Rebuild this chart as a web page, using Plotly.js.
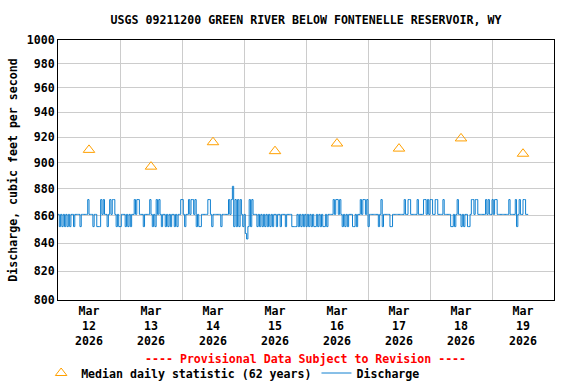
<!DOCTYPE html>
<html>
<head>
<meta charset="utf-8">
<script src="https://cdn.plot.ly/plotly-3.0.1.min.js"></script>
<style>html,body{margin:0;padding:0;background:#fff}#chart{width:576px;height:384px}</style>
</head>
<body>
<div id="chart"></div>
<script>
// Median daily statistic (62 years), plotted at noon of each day
const medianDays = ['2026-03-12 12:00','2026-03-13 12:00','2026-03-14 12:00','2026-03-15 12:00','2026-03-16 12:00','2026-03-17 12:00','2026-03-18 12:00','2026-03-19 12:00'];
const medianValues = [910, 897, 916, 909, 915, 911, 919, 907];

// Discharge, cfs, read at 30-minute steps for each day (starting at 00:00)
const qMar12 = [861,852,861,852,861,852,861,852,861,852,861,861,852,861,861,861,861,852,861,861,861,861,861,872,861,861,861,852,861,861,852,852,852,872,861,872,861,861,852,861,872,861,872,872,861,852,861,852];
const qMar13 = [852,861,861,861,852,861,852,861,852,861,861,872,861,872,872,861,861,861,852,861,861,861,861,872,861,852,861,852,872,861,872,861,852,861,861,852,861,852,861,852,861,861,852,861,852,861,861,872];
const qMar14 = [872,861,852,861,861,872,861,872,872,861,872,852,861,852,852,861,861,861,861,861,872,872,861,852,861,861,861,861,861,861,852,861,861,861,861,861,872,861,872,882,852,872,852,872,852,872,861,852];
const qMar15 = [861,847,843,852,872,852,872,861,861,861,852,861,852,861,852,861,852,861,852,861,852,861,852,861,861,852,861,861,852,861,861,861,852,861,861,861,861,852,852,852,852,861,852,861,852,861,852,861];
const qMar16 = [852,861,852,861,852,861,852,852,861,852,861,852,861,852,852,861,852,861,861,861,861,872,861,872,872,861,872,861,852,861,852,861,852,861,861,861,852,852,861,852,861,861,872,861,872,872,861,872];
const qMar17 = [852,861,861,861,861,861,861,861,852,861,872,852,861,861,861,861,861,852,852,861,861,861,861,861,861,861,861,861,872,861,861,872,872,861,861,861,861,861,872,861,861,861,861,872,872,861,872,861];
const qMar18 = [872,872,861,861,872,872,861,861,861,861,872,861,861,861,861,861,852,852,861,852,861,872,861,861,852,861,852,861,861,852,852,861,872,872,861,872,872,861,861,861,861,861,861,872,861,872,861,861];
const qMar19 = [872,861,872,872,861,861,861,861,861,861,861,861,861,872,861,861,861,861,872,852,861,872,861,861,872,872,861,861,861];

const dayStarts = ['2026-03-12','2026-03-13','2026-03-14','2026-03-15','2026-03-16','2026-03-17','2026-03-18','2026-03-19'];
const dayValues = [qMar12,qMar13,qMar14,qMar15,qMar16,qMar17,qMar18,qMar19];

const yTicks = [800,820,840,860,880,900,920,940,960,980,1000];
const xLabelDays = medianDays;
const xLabelText = ['Mar<br>12<br>2026','Mar<br>13<br>2026','Mar<br>14<br>2026','Mar<br>15<br>2026','Mar<br>16<br>2026','Mar<br>17<br>2026','Mar<br>18<br>2026','Mar<br>19<br>2026'];

function pad(n){return (n<10?'0':'')+n;}
const qx = [], qy = [];
dayStarts.forEach((d, di) => {
  const p = d.split('-').map(Number);
  dayValues[di].forEach((v, i) => {
    const t = new Date(Date.UTC(p[0], p[1]-1, p[2]) + i*30*60000);
    qx.push(t.getUTCFullYear()+'-'+pad(t.getUTCMonth()+1)+'-'+pad(t.getUTCDate())+' '+pad(t.getUTCHours())+':'+pad(t.getUTCMinutes()));
    qy.push(v);
  });
});

const FONT = 'DejaVu Sans Mono';
const f = {family: FONT, size: 11.6, color: '#000', weight: 'bold'};

const traces = [
  {x: medianDays, y: medianValues, type: 'scatter', mode: 'markers', name: 'Median daily statistic (62 years)',
   marker: {symbol: 'triangle-up-open', size: 10, color: '#FFA000', line: {width: 1, color: '#FFA000'}}},
  {x: qx, y: qy, type: 'scatter', mode: 'lines', name: 'Discharge',
   line: {shape: 'hv', width: 1, color: 'rgb(16,128,208)'}}
];

const layout = {
  width: 576, height: 384,
  margin: {l: 58, r: 22, t: 40, b: 84, autoexpand: false},
  paper_bgcolor: '#fff', plot_bgcolor: '#fff',
  font: f,
  showlegend: true,
  title: {text: 'USGS 09211200 GREEN RIVER BELOW FONTENELLE RESERVOIR, WY', font: f,
          x: 0.5, xref: 'paper', xanchor: 'center', y: 1 - 20/384, yref: 'container', yanchor: 'middle'},
  xaxis: {type: 'date', range: ['2026-03-12 00:00', '2026-03-20 00:00'],
          tickmode: 'array', tickvals: xLabelDays, ticktext: xLabelText,
          showgrid: false, ticks: '', tickfont: f, automargin: false,
          minor: {tickmode: 'linear', tick0: '2026-03-12', dtick: 86400000, showgrid: true, gridcolor: '#cccccc', gridwidth: 1, ticks: ''},
          showline: true, mirror: true, linecolor: '#000', linewidth: 1, zeroline: false, fixedrange: true},
  yaxis: {type: 'log', range: [Math.log10(800), Math.log10(1000)],
          tickmode: 'array', tickvals: yTicks, ticktext: yTicks.map(String),
          showgrid: true, gridcolor: '#cccccc', gridwidth: 1, ticks: '', tickfont: f,
          showline: true, mirror: true, linecolor: '#000', linewidth: 1, zeroline: false,
          title: {text: 'Discharge, cubic feet per second', font: f, standoff: 6}, automargin: false},
  legend: {orientation: 'h', x: -0.034, xanchor: 'left', y: (300-373)/260, yanchor: 'middle', font: f,
           bgcolor: 'rgba(0,0,0,0)', itemwidth: 30, tracegroupgap: 0},
  annotations: [
    {text: '---- Provisional Data Subject to Revision ----', xref: 'paper', yref: 'paper',
     x: 0.499, y: (300-359)/260, xanchor: 'center', yanchor: 'middle', showarrow: false,
     font: {family: FONT, size: 11.6, color: '#FF0000', weight: 'bold'}}
  ]
};

Plotly.newPlot('chart', traces, layout, {staticPlot: true, displayModeBar: false});
</script>
</body>
</html>
